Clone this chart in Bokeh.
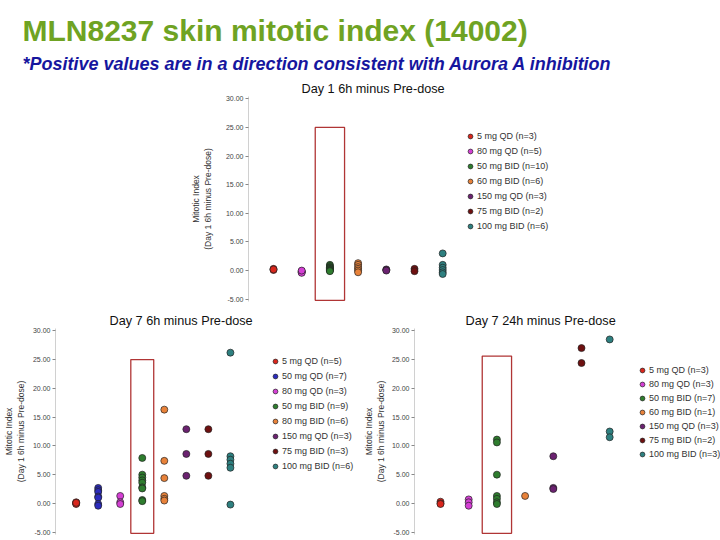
import math
from bokeh.plotting import figure
from bokeh.models import Range1d, Legend, LegendItem, FixedTicker, PrintfTickFormatter, Title
from bokeh.layouts import column, row
from bokeh.embed import file_html
from bokeh.resources import INLINE

FONT = "Liberation Sans"

# ---------------- data ----------------
TITLE = "MLN8237 skin mitotic index (14002)"
SUBTITLE = "*Positive values are in a direction consistent with Aurora A inhibition"
Y_LABEL = "Mitotic Index\n(Day 1 6h minus Pre-dose)"
Y_TICKS = [-5, 0, 5, 10, 15, 20, 25, 30]
Y_MIN, Y_MAX = -5.4, 30.4

DOSE_COLORS = {
    "5 mg QD": "#d9261c",
    "50 mg QD": "#2b2bbd",
    "80 mg QD": "#d43fd4",
    "50 mg BID": "#2e7d2e",
    "60 mg BID": "#e8823a",
    "80 mg BID": "#e8823a",
    "150 mg QD": "#6b2270",
    "75 mg BID": "#6e1010",
    "100 mg BID": "#2e8080",
}

# Day 1 6h minus Pre-dose
d1_title = "Day 1 6h minus Pre-dose"
d1_doses = ["5 mg QD", "80 mg QD", "50 mg BID", "60 mg BID", "150 mg QD", "75 mg BID", "100 mg BID"]
d1_n = [3, 5, 10, 6, 3, 2, 6]
d1_values = [
    [0.3, 0.1, 0.2],
    [-0.1, -0.3, -0.2, -0.4, 0.0],
    [1.0, 0.8, 0.6, 0.5, 0.4, 0.3, 0.2, 0.1, 0.0, -0.1],
    [1.3, 1.0, 0.6, 0.3, 0.0, -0.3],
    [0.2, 0.1, 0.0],
    [0.3, -0.1],
    [3.0, 1.0, 0.5, 0.1, -0.3, -0.6],
]
d1_highlight = "50 mg BID"
d1_box = (-5.2, 25.0)

# Day 7 6h minus Pre-dose
d7a_title = "Day 7 6h minus Pre-dose"
d7a_doses = ["5 mg QD", "50 mg QD", "80 mg QD", "50 mg BID", "80 mg BID", "150 mg QD", "75 mg BID", "100 mg BID"]
d7a_n = [5, 7, 3, 9, 6, 3, 3, 6]
d7a_values = [
    [0.2, 0.1, 0.0, -0.1, 0.1],
    [2.7, 2.3, 2.0, 1.2, 1.0, -0.1, -0.4],
    [1.3, 0.2, -0.1],
    [7.9, 5.0, 4.5, 4.0, 3.6, 2.8, 2.6, 0.6, 0.4],
    [16.3, 7.4, 4.4, 1.3, 0.8, 0.5],
    [12.9, 8.6, 4.8],
    [12.9, 8.6, 4.8],
    [26.2, 8.2, 7.6, 6.9, 6.2, -0.2],
]
d7a_highlight = "50 mg BID"
d7a_box = (-5.2, 25.0)

# Day 7 24h minus Pre-dose
d7b_title = "Day 7 24h minus Pre-dose"
d7b_doses = ["5 mg QD", "80 mg QD", "50 mg BID", "60 mg BID", "150 mg QD", "75 mg BID", "100 mg BID"]
d7b_n = [3, 3, 7, 1, 3, 2, 3]
d7b_values = [
    [0.3, 0.0, -0.1],
    [0.7, 0.2, -0.4],
    [11.1, 10.6, 5.0, 1.3, 0.8, 0.2, -0.1],
    [1.3],
    [8.2, 2.7, 2.5],
    [27.0, 24.4],
    [28.5, 12.5, 11.5],
]
d7b_highlight = "50 mg BID"
d7b_box = (-5.2, 25.6)

PANEL_TITLE_STYLE = dict(align="left", text_font=FONT, text_font_size="12.7px",
                         text_font_style="normal", text_color="#111111", standoff=2)


def make_panel(width, height, b_left, b_top, b_bottom, cat_offset, cat_step,
               title, title_offset, ylab_standoff, legend_xy, legend_spacing,
               doses, ns, values, highlight, box, own_title=True):
    frame_w = width - b_left
    x0 = 1 - cat_offset / cat_step
    x1 = x0 + frame_w / cat_step
    p = figure(width=width, height=height, x_range=Range1d(x0, x1),
               y_range=Range1d(Y_MIN, Y_MAX), output_backend="svg",
               toolbar_location=None, x_axis_location=None,
               min_border_left=b_left, min_border_right=0,
               min_border_top=b_top, min_border_bottom=b_bottom)
    p.outline_line_color = None
    p.grid.visible = False
    p.background_fill_color = "white"
    p.border_fill_color = "white"

    if own_title:
        p.title.text = title
        p.title.offset = title_offset
        for k, v in PANEL_TITLE_STYLE.items():
            setattr(p.title, k, v)
    else:
        p.title.text = ""
        p.add_layout(Title(text=title, offset=title_offset, **PANEL_TITLE_STYLE), "above")

    ax = p.yaxis[0]
    ax.ticker = FixedTicker(ticks=Y_TICKS)
    ax.formatter = PrintfTickFormatter(format="%.2f")
    ax.major_label_text_font = FONT
    ax.major_label_text_font_size = "7px"
    ax.major_label_text_color = "#444444"
    ax.axis_line_color = "#d0d0d0"
    ax.major_tick_line_color = "#888888"
    ax.major_tick_out = 3
    ax.major_tick_in = 0
    ax.minor_tick_line_color = None
    ax.major_label_standoff = 2
    ax.axis_label = Y_LABEL
    ax.axis_label_text_font = FONT
    ax.axis_label_text_font_size = "8.5px"
    ax.axis_label_text_font_style = "normal"
    ax.axis_label_text_color = "#333333"
    ax.axis_label_standoff = ylab_standoff

    hx = doses.index(highlight) + 1
    p.quad(left=hx - 0.52, right=hx + 0.52, bottom=box[0], top=box[1],
           fill_color=None, line_color="#b03535", line_width=1.3)

    items = []
    for i, (dose, n, vals) in enumerate(zip(doses, ns, values)):
        r = p.scatter(x=[i + 1] * len(vals), y=vals, size=7, marker="circle",
                      fill_color=DOSE_COLORS[dose], line_color="#222222", line_width=0.7)
        items.append(LegendItem(label=f"{dose} (n={n})", renderers=[r]))

    legend = Legend(items=items, location=legend_xy, label_text_font=FONT,
                    label_text_font_size="9px", label_text_color="#333333",
                    glyph_width=12, glyph_height=12, label_height=12,
                    spacing=legend_spacing, padding=0, margin=0,
                    border_line_color=None, background_fill_alpha=0,
                    label_standoff=1)
    p.add_layout(legend)
    return p


top = make_panel(720, 310, 248, 96, 9, 25, 28.2, d1_title, 53, 10,
                 (216, 69), 3, d1_doses, d1_n, d1_values, d1_highlight, d1_box,
                 own_title=False)
# slide header, stacked above the first panel's title
top.add_layout(Title(text=SUBTITLE, align="left", offset=-226, text_font=FONT,
                     text_font_size="18px", text_font_style="bold italic",
                     text_color="#16169e", standoff=9), "above")
top.add_layout(Title(text=TITLE, align="left", offset=-226, text_font=FONT,
                     text_font_size="30px", text_font_style="bold",
                     text_color="#6fa323", standoff=2), "above")

bl = make_panel(358, 230, 50, 17, 6, 21, 22.4, d7a_title, 54, 4,
                (214, 62), 3, d7a_doses, d7a_n, d7a_values, d7a_highlight, d7a_box)
br = make_panel(362, 230, 56, 17, 6, 26, 28.2, d7b_title, 51, 3,
                (222, 74), 2, d7b_doses, d7b_n, d7b_values, d7b_highlight, d7b_box)

layout = column(top, row(bl, br))
open("out.html", "w").write(file_html(layout, INLINE))
